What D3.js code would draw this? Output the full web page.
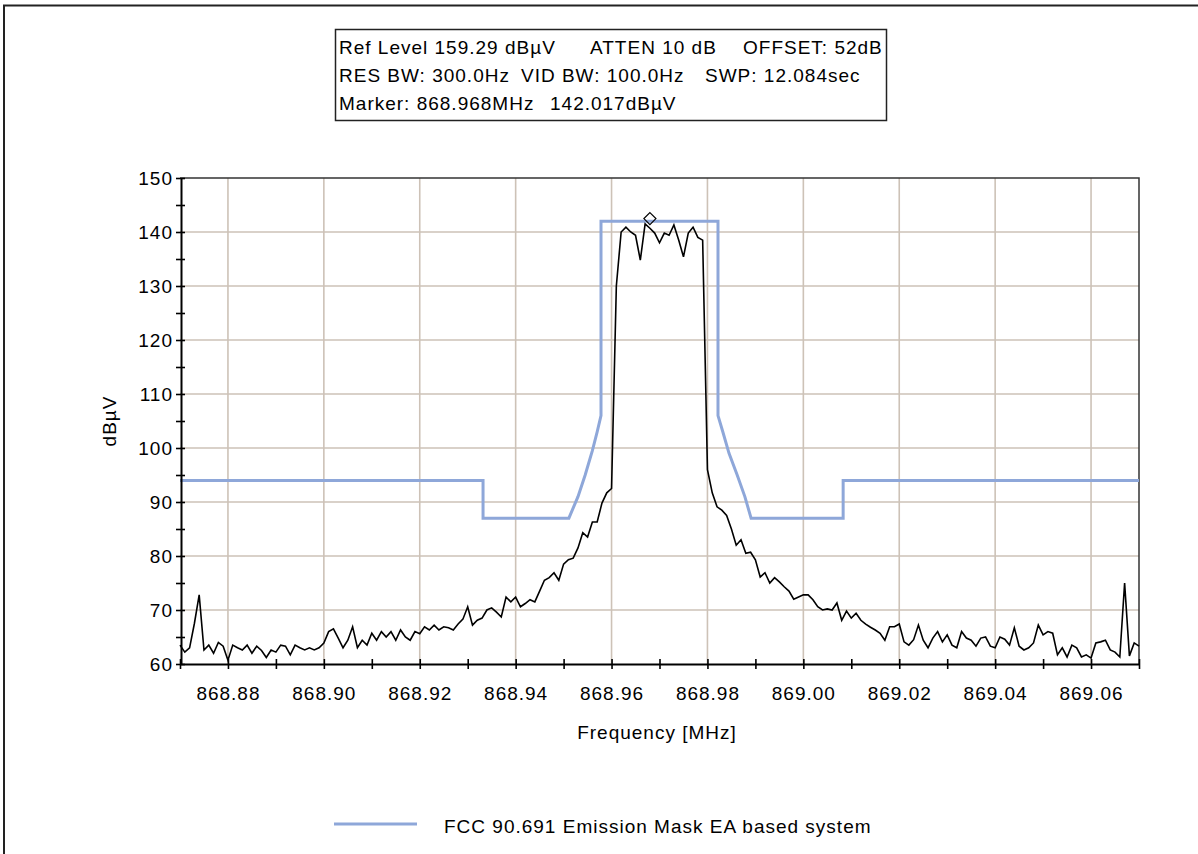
<!DOCTYPE html>
<html><head><meta charset="utf-8">
<script src="https://cdn.jsdelivr.net/npm/d3@7"></script>
<style>body{margin:0;background:#fff}svg{display:block}</style>
</head><body><svg id="c" width="1198" height="854"></svg>
<script>
// ---------- data ----------
const sweepStart = 868.870;   // MHz
const sweepStep = 0.001;      // MHz per trace point
const traceLevels = [
 63.5,62.2,63,67.5,72.8,62.6,63.5,62,64,63.3,
 60.7,63.5,63,62.6,63.5,62,63.3,62.5,61.2,62.6,
 62.2,63.5,63.3,61.7,63.5,63,62.6,63,62.6,63,
 63.9,66,66.5,64.8,63,64.4,66.9,63,64.4,63.5,
 65.7,64.4,66,65,66,64.4,66.3,65,64.4,66,
 65.6,66.9,66.3,67.2,66.3,66.9,66.7,66.3,67.4,68.3,
 70.6,67.2,68.1,68.5,70,70.4,69.6,68.7,72.4,71.5,
 72.4,70.6,71.2,71.9,71.5,73.5,75.5,76,76.9,75.5,
 78.5,79.3,79.6,81.5,84.3,83.5,86.3,86.3,89.8,91.7,
 92.5,130,140,140.9,140,139.4,134.8,141.5,140.7,139.8,
 138,139.8,139.4,141.3,138.5,135.4,139.8,140.9,139,138.5,
 96,91.7,89.1,88.5,87.5,85,82,83,80.5,80.7,
 79.3,76.1,76.9,75,76,75.2,74.3,73.5,72,72.4,
 72.8,72.8,71.9,70.6,70,70.2,70,71.3,68.1,69.8,
 68.5,69.4,68.1,67.4,66.8,66.3,65.7,64.4,66.9,66.9,
 67.4,64.1,63.5,64.5,67.2,64.4,63,64.8,66,64.1,
 65.4,63.5,63,66,64.8,64.4,63.3,64.8,65,63.3,
 63,65,64.6,63.5,66.7,63.3,62.6,63,63.9,67.2,
 65.4,66,65.7,61.7,63,61.3,63.5,63,61.3,61.7,
 61.1,63.9,64.1,64.4,62.6,62.2,61.3,75,61.5,63.9,
 63.3
];
const maskFreq  = [868.87, 868.9332, 868.9332, 868.9511, 868.9530, 868.9545, 868.9560, 868.9570, 868.9578, 868.9578,
                   868.9822, 868.9822, 868.9832, 868.9845, 868.9862, 868.9878, 868.9891, 869.0083, 869.0083, 869.07];
const maskLevel = [94, 94, 87, 87, 91, 95, 99.5, 103, 106, 142,
                   142, 106, 103, 99, 95, 91, 87, 87, 94, 94];
const markerFreq = 868.968, markerLevel = 142.017;

const xDomain = [868.87, 869.07];
const yDomain = [60, 150];
const xMinorTicks = [868.87,868.88,868.89,868.90,868.91,868.92,868.93,868.94,868.95,868.96,868.97,
                     868.98,868.99,869.00,869.01,869.02,869.03,869.04,869.05,869.06,869.07];
const xLabelTicks = [868.88,868.90,868.92,868.94,868.96,868.98,869.00,869.02,869.04,869.06];
const xTickLabels = ["868.88","868.90","868.92","868.94","868.96","868.98","869.00","869.02","869.04","869.06"];
const yMinorTicks = [60,65,70,75,80,85,90,95,100,105,110,115,120,125,130,135,140,145,150];
const yLabelTicks = [60,70,80,90,100,110,120,130,140,150];
const yTickLabels = ["60","70","80","90","100","110","120","130","140","150"];
const headerLine1 = ["Ref Level 159.29 dBµV", "ATTEN 10 dB", "OFFSET: 52dB"];
const headerLine2 = ["RES BW: 300.0Hz", "VID BW: 100.0Hz", "SWP: 12.084sec"];
const headerLine3 = ["Marker: 868.968MHz", "142.017dBµV"];
const xTitle = "Frequency [MHz]";
const yTitle = "dBµV";
const legendLabel = "FCC 90.691 Emission Mask EA based system";

// ---------- layout ----------
const L = 180, R = 1139, T = 178, B = 664;
const FONT = "'Liberation Sans', Arial, sans-serif";
const svg = d3.select("#c");
svg.append("rect").attr("width",1198).attr("height",854).attr("fill","#fff");

// outer frame (top + left)
svg.append("path").attr("d","M4,1000V5.5H1198").attr("fill","none").attr("stroke","#222").attr("stroke-width",2);

const x = d3.scaleLinear().domain(xDomain).range([L, R]);
const y = d3.scaleLinear().domain(yDomain).range([B, T]);

// grid
const grid = svg.append("g").attr("stroke","#cdc2b7").attr("stroke-width",1.6);
grid.selectAll("line.v").data(xLabelTicks).join("line")
  .attr("x1",d=>x(d)).attr("x2",d=>x(d)).attr("y1",T).attr("y2",B);
grid.selectAll("line.h").data(yLabelTicks.filter(v=>v>60 && v<150)).join("line")
  .attr("x1",L).attr("x2",R).attr("y1",d=>y(d)).attr("y2",d=>y(d));

// plot border top / right
svg.append("path").attr("d",`M${L},${T}H${R}V${B}`).attr("fill","none").attr("stroke","#333").attr("stroke-width",1.5);

// mask
const maskData = maskFreq.map((f,i)=>[f, maskLevel[i]]);
svg.append("path").datum(maskData)
  .attr("d", d3.line().x(d=>x(d[0])).y(d=>y(d[1])))
  .attr("fill","none").attr("stroke","#8ea7d9").attr("stroke-width",3).attr("stroke-linejoin","miter");

// trace
const traceData = traceLevels.map((v,i)=>[sweepStart + i*sweepStep, v]);
svg.append("path").datum(traceData)
  .attr("d", d3.line().x(d=>x(d[0])).y(d=>y(d[1])))
  .attr("fill","none").attr("stroke","#000").attr("stroke-width",1.6).attr("stroke-linejoin","miter");

// marker diamond
const mx = x(markerFreq), my = y(markerLevel) - 2.5;
svg.append("path").attr("d",`M${mx},${my-6}L${mx+6},${my}L${mx},${my+6}L${mx-6},${my}Z`)
  .attr("fill","none").attr("stroke","#000").attr("stroke-width",1.2);

// axes
const xAxis = d3.axisBottom(x).tickValues(xMinorTicks).tickSizeInner(5).tickSizeOuter(0).tickFormat("");
const gx = svg.append("g").attr("transform",`translate(0,${B})`).call(xAxis);
gx.select(".domain").attr("stroke","#000").attr("stroke-width",2);
gx.selectAll(".tick line").attr("y1",-5).attr("stroke","#000").attr("stroke-width",1.6);

const yAxis = d3.axisLeft(y).tickValues(yMinorTicks).tickSizeInner(5).tickSizeOuter(0).tickFormat("");
const gy = svg.append("g").attr("transform",`translate(${L+1},0)`).call(yAxis);
gy.select(".domain").attr("stroke","#000").attr("stroke-width",2);
gy.selectAll(".tick line").attr("x1",4).attr("stroke","#000").attr("stroke-width",1.6);

const txt = (sel)=>sel.attr("font-family",FONT).attr("font-size",19).attr("letter-spacing","1px").attr("fill","#000");

// tick labels
svg.append("g").selectAll("text").data(xLabelTicks).join("text")
  .attr("x",d=>x(d)+0.5).attr("y",700).attr("text-anchor","middle").text((d,i)=>xTickLabels[i]).call(txt);
svg.append("g").selectAll("text").data(yLabelTicks).join("text")
  .attr("x",173).attr("y",d=>y(d)+7).attr("text-anchor","end").text((d,i)=>yTickLabels[i]).call(txt);

// titles
svg.append("text").attr("x",657).attr("y",739).attr("text-anchor","middle").text(xTitle).call(txt);
svg.append("text").attr("transform","translate(116,421) rotate(-90)").attr("text-anchor","middle").text(yTitle).call(txt);

// header box
svg.append("rect").attr("x",335.5).attr("y",29.5).attr("width",551).attr("height",91)
  .attr("fill","#fff").attr("stroke","#222").attr("stroke-width",1.5);
const hdr = [[headerLine1,[339,590,743],54],[headerLine2,[339,521,705],82],[headerLine3,[339,550],110]];
hdr.forEach(([parts,xs,yy])=>{
  parts.forEach((p,i)=>svg.append("text").attr("x",xs[i]).attr("y",yy).text(p).call(txt));
});

// legend
svg.append("line").attr("x1",334).attr("x2",417).attr("y1",824).attr("y2",824)
  .attr("stroke","#8ea7d9").attr("stroke-width",3);
svg.append("text").attr("x",444).attr("y",833).text(legendLabel).call(txt);
</script></body></html>
